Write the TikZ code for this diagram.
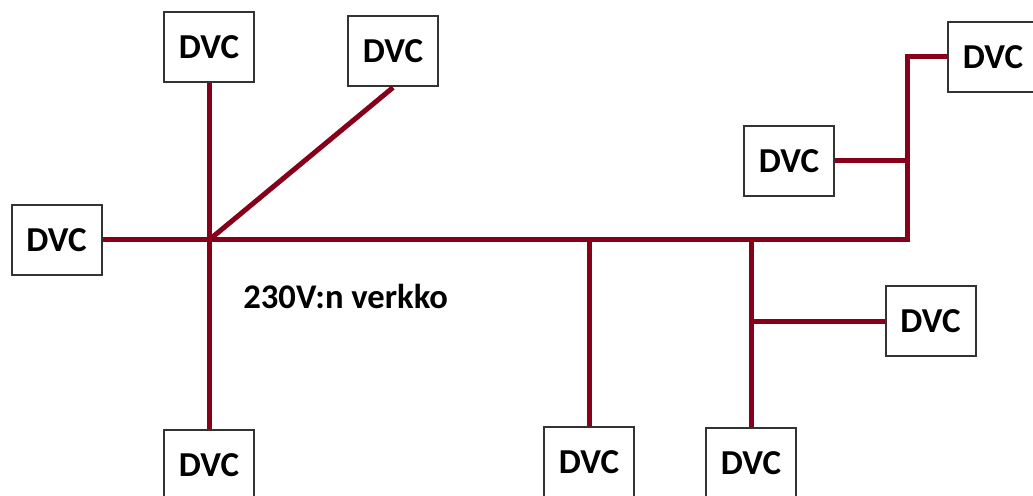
\documentclass[tikz,border=0pt]{standalone}
\usepackage{fontspec}
\newfontfamily\boxfont{Carlito}
\definecolor{wirered}{RGB}{134,0,26}
\tikzset{
  dvc/.style={draw=black!80, line width=1pt, fill=white, minimum width=45pt,
    minimum height=35pt, inner sep=0pt, font=\boxfont\bfseries\fontsize{17.5}{21}\selectfont},
  netlabel/.style={inner sep=0pt, font=\boxfont\bfseries\fontsize{17.3}{21}\selectfont},
  wire/.style={draw=wirered, line width=2.5pt}
}
\begin{document}
\begin{tikzpicture}[x=0.5pt,y=-0.5pt]
\useasboundingbox (0,0) rectangle (1033,496);
% laitteet
\node[dvc] (tl) at (209,47.5) {DVC};
\node[dvc] (tm) at (393,51.5) {DVC};
\node[dvc] (lf) at (56.5,240) {DVC};
\node[dvc] (bl) at (209,465) {DVC};
\node[dvc] (bm) at (589,462) {DVC};
\node[dvc] (br) at (751,463) {DVC};
\node[dvc] (rr) at (930.5,321.5) {DVC};
\node[dvc] (rm) at (789,161) {DVC};
\node[dvc] (tr) at (993,57) {DVC};
\node[netlabel, anchor=west] (net) at (243,296) {230V:n verkko};
% liitoskohdat
\coordinate (hub) at (209,240);
\coordinate (j1) at (589,240);
\coordinate (j2) at (751,240);
\coordinate (corner) at (907,240);
\coordinate (j3) at (751,321.5);
\coordinate (j4) at (907,161);
\coordinate (j5) at (907,57);
% johdot
\draw[wire] (lf.east) -- (hub) -- (corner) -- (j5) -- (tr.west);
\draw[wire] (tl.south) -- (bl.north);
\draw[wire] (hub) -- (tm.south);
\draw[wire] (j1) -- (bm.north);
\draw[wire] (j2) -- (br.north);
\draw[wire] (j3) -- (rr.west);
\draw[wire] (rm.east) -- (j4);
\end{tikzpicture}
\end{document}
